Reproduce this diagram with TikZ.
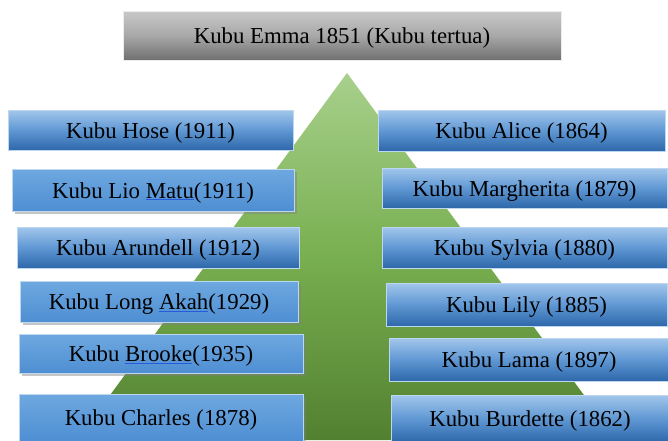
\documentclass[tikz,border=0pt]{standalone}
\usepackage{fontspec}
\setmainfont{Liberation Serif}
\newfontfamily\timesfam{Liberation Serif}
\usetikzlibrary{shadows}
\definecolor{bluetop}{RGB}{162,198,235}
\definecolor{bluemid}{RGB}{96,152,212}
\definecolor{bluebot}{RGB}{46,104,170}
\definecolor{bluelinetop}{RGB}{190,215,240}
\definecolor{flattop}{RGB}{110,168,224}
\definecolor{flatbot}{RGB}{78,142,210}
\definecolor{graytop}{RGB}{200,200,200}
\definecolor{graymid}{RGB}{168,168,168}
\definecolor{graybot}{RGB}{112,112,112}
\definecolor{greentop}{RGB}{168,208,140}
\definecolor{greenmid}{RGB}{120,175,80}
\definecolor{greenbot}{RGB}{82,128,48}
\definecolor{spellblue}{RGB}{40,90,220}
\newcommand{\splword}[1]{{\color{spellblue}\underline{\color{black}#1}}}
\tikzset{
  lbl/.style={font=\timesfam\fontsize{22.8}{26}\selectfont, text=black, inner sep=0pt,
    text height=16pt, text depth=0pt},
  gradbox/.style={lbl, draw=bluelinetop, line width=0.5pt, top color=bluetop, bottom color=bluebot, middle color=bluemid},
  flatbox/.style={lbl, draw=bluelinetop, line width=0.5pt, top color=flattop, bottom color=flatbot,
    drop shadow={opacity=0.45, shadow xshift=3pt, shadow yshift=-3pt}},
  graybox/.style={lbl, draw=white!85!gray, line width=0.5pt, top color=graytop, bottom color=graybot, middle color=graymid},
}
\newcommand{\kbox}[6]{% style, name, x1, y1, x2, y2 ; text follows
  \node[#1, minimum width={(#5-#3)*1pt}, minimum height={(#6-#4)*1pt}] (#2) at ({(#3+#5)/2},{(#4+#6)/2})}
\begin{document}
\begin{tikzpicture}[x=1pt,y=-1pt]
\useasboundingbox (0,0) rectangle (668,440);
\clip (0,0) rectangle (668,440);
% pyramid
\coordinate (apex) at (347,73);
\coordinate (bl) at (77,440);
\coordinate (br) at (617,440);
\shade[top color=greentop, bottom color=greenbot, middle color=greenmid] (apex) -- (br) -- (bl) -- cycle;
% top box
\kbox{graybox}{emma}{123}{11}{561}{60} {Kubu Emma 1851 (Kubu tertua)};
% left column
\kbox{gradbox}{hose}{8}{110}{293}{150} {Kubu Hose (1911)};
\kbox{flatbox}{lio}{12}{169}{294}{211} {Kubu Lio \splword{Matu}(1911)};
\kbox{gradbox}{arundell}{17}{227}{299}{268} {Kubu Arundell (1912)};
\kbox{flatbox}{longakah}{20}{281}{298}{322} {Kubu Long \splword{Akah}(1929)};
\kbox{flatbox}{brooke}{19}{334}{303}{373} {Kubu \splword{Brooke}(1935)};
\kbox{flatbox}{charles}{19}{394}{303}{441} {Kubu Charles (1878)};
% right column
\kbox{gradbox}{alice}{378}{110}{665}{151} {Kubu Alice (1864)};
\kbox{gradbox}{margherita}{382}{168}{667}{208} {Kubu Margherita (1879)};
\kbox{gradbox}{sylvia}{382}{227}{667}{268} {Kubu Sylvia (1880)};
\kbox{gradbox}{lily}{386}{283}{667}{326} {Kubu Lily (1885)};
\kbox{gradbox}{lama}{389}{338}{669}{381} {Kubu Lama (1897)};
\kbox{gradbox}{burdette}{391}{395}{669}{442} {Kubu Burdette (1862)};
\end{tikzpicture}
\end{document}
